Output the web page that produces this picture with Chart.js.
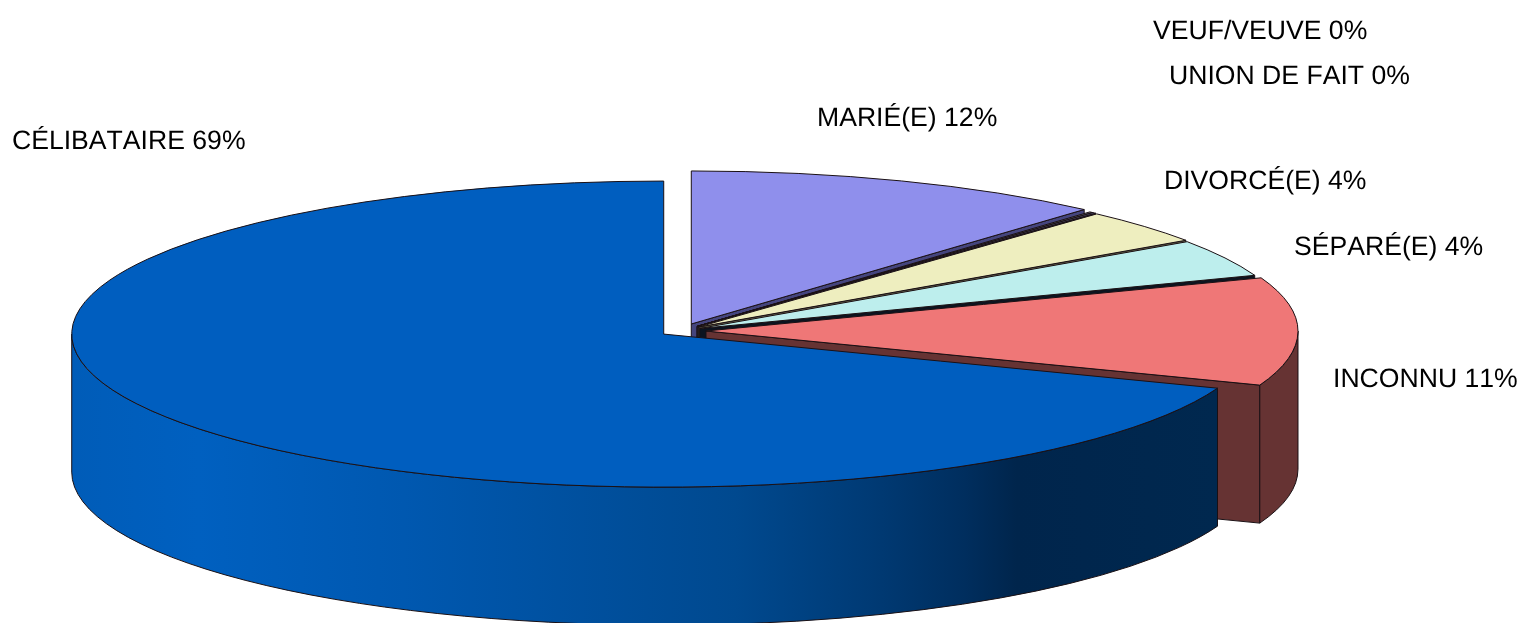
<!DOCTYPE html>
<html>
<head>
<meta charset="utf-8">
<title>Situation familiale</title>
<style>
  html, body { margin: 0; padding: 0; background: #fff; overflow: hidden; }
  #pie { display: block; }
</style>
<script src="https://cdn.jsdelivr.net/npm/chart.js@4/dist/chart.umd.min.js"></script>
</head>
<body>
<canvas id="pie" width="1523" height="623"></canvas>
<script>
// Data
const categories = ['MARIÉ(E)', 'VEUF/VEUVE', 'UNION DE FAIT', 'DIVORCÉ(E)', 'SÉPARÉ(E)', 'INCONNU', 'CÉLIBATAIRE'];
const shares = [11.55, 0.1, 0.1, 3.65, 3.95, 11.4, 69.25];

// Styles
const topColors = ['#8F8FEC', '#6B6B6B', '#55557A', '#EEEEBF', '#BDEEED', '#EF7777', '#005EBF'];
const sideColors = ['#45457E', '#333333', '#2A2A3D', '#6B6B50', '#0C1420', '#663333', '#005EBF'];
const explode = [29, 24, 24, 23, 21, 25, 21];
const labelAt = [[817, 126], [1153, 39], [1169, 84], [1164, 189], [1294, 255], [1333, 387], [12, 149]];

const squash = 0.2585;   // ellipse ratio of the tilted pie
const depth = 138;       // height of the extruded wall
const lineColor = '#1A1014';

// Centre of an exploded slice, on the tilted plane
function sliceOrigin(arc, i) {
  const mid = (arc.startAngle + arc.endAngle) / 2;
  return {
    x: arc.x + Math.cos(mid) * explode[i],
    y: arc.y + Math.sin(mid) * explode[i] * squash
  };
}

function wallFill(ctx, i) {
  if (i !== shares.length - 1) return sideColors[i];
  // Only the big slice has the shaded wall
  const g = ctx.createLinearGradient(72, 0, 1217, 0);
  g.addColorStop(0, '#005CB8');
  g.addColorStop(0.11, '#0060C0');
  g.addColorStop(0.29, '#0058B0');
  g.addColorStop(0.58, '#00498F');
  g.addColorStop(0.70, '#003A74');
  g.addColorStop(0.78, '#002E5E');
  g.addColorStop(0.825, '#00254C');
  g.addColorStop(1, '#00284F');
  return g;
}

function drawCutFace(ctx, arc, o, angle, color) {
  const r = arc.outerRadius;
  const ex = o.x + Math.cos(angle) * r;
  const ey = o.y + Math.sin(angle) * r * squash;
  ctx.beginPath();
  ctx.moveTo(o.x, o.y);
  ctx.lineTo(ex, ey);
  ctx.lineTo(ex, ey + depth);
  ctx.lineTo(o.x, o.y + depth);
  ctx.closePath();
  ctx.fillStyle = color;
  ctx.fill();
  ctx.stroke();
}

function drawSides(ctx, arc, o, i) {
  const r = arc.outerRadius;
  // Cut face on the far side of the slice, when it turns towards the viewer
  if (Math.cos(arc.endAngle) > 0.001) drawCutFace(ctx, arc, o, arc.endAngle, sideColors[i]);
  if (Math.cos(arc.startAngle) < -0.001) drawCutFace(ctx, arc, o, arc.startAngle, sideColors[i]);

  // Outer wall, front half only
  const from = Math.max(arc.startAngle, 0);
  const to = Math.min(arc.endAngle, Math.PI);
  if (to <= from) return;
  ctx.beginPath();
  ctx.ellipse(o.x, o.y, r, r * squash, 0, from, to);
  ctx.ellipse(o.x, o.y + depth, r, r * squash, 0, to, from, true);
  ctx.closePath();
  ctx.fillStyle = wallFill(ctx, i);
  ctx.fill();
  ctx.stroke();
}

const tiltedPie = {
  id: 'tiltedPie',
  beforeDatasetsDraw(chart) {
    const ctx = chart.ctx;
    const arcs = chart.getDatasetMeta(0).data;

    ctx.save();
    ctx.lineWidth = 1;
    ctx.strokeStyle = lineColor;
    arcs.forEach((arc, i) => drawSides(ctx, arc, sliceOrigin(arc, i), i));
    ctx.restore();

    arcs.forEach((arc, i) => {
      const o = sliceOrigin(arc, i);
      // Top face: the arc itself, flattened on the tilted plane
      ctx.save();
      ctx.translate(o.x, o.y);
      ctx.scale(1, squash);
      ctx.translate(-arc.x, -arc.y);
      arc.draw(ctx);
      ctx.restore();

      ctx.save();
      ctx.lineWidth = 1;
      ctx.strokeStyle = lineColor;
      ctx.beginPath();
      ctx.moveTo(o.x, o.y);
      ctx.ellipse(o.x, o.y, arc.outerRadius, arc.outerRadius * squash, 0, arc.startAngle, arc.endAngle);
      ctx.closePath();
      ctx.stroke();
      ctx.restore();
    });
    return false;
  },
  afterDraw(chart) {
    const ctx = chart.ctx;
    ctx.save();
    ctx.fillStyle = '#000';
    ctx.font = '26.6px "Liberation Sans"';
    ctx.fontKerning = 'none';
    ctx.textRendering = 'geometricPrecision';
    ctx.textBaseline = 'alphabetic';
    categories.forEach((name, i) => {
      ctx.fillText(name + ' ' + Math.round(shares[i]) + '%', labelAt[i][0], labelAt[i][1]);
    });
    ctx.restore();
  }
};

new Chart(document.getElementById('pie'), {
  type: 'pie',
  data: {
    labels: categories,
    datasets: [{
      data: shares,
      backgroundColor: topColors,
      borderWidth: 0
    }]
  },
  options: {
    responsive: false,
    animation: false,
    radius: 592,
    // moves the library's pie centre to where the picture has it
    layout: { padding: { top: 39, right: 161, left: 0, bottom: 0 } },
    plugins: {
      legend: { display: false },
      tooltip: { enabled: false }
    },
    events: []
  },
  plugins: [tiltedPie]
});
</script>
</body>
</html>
